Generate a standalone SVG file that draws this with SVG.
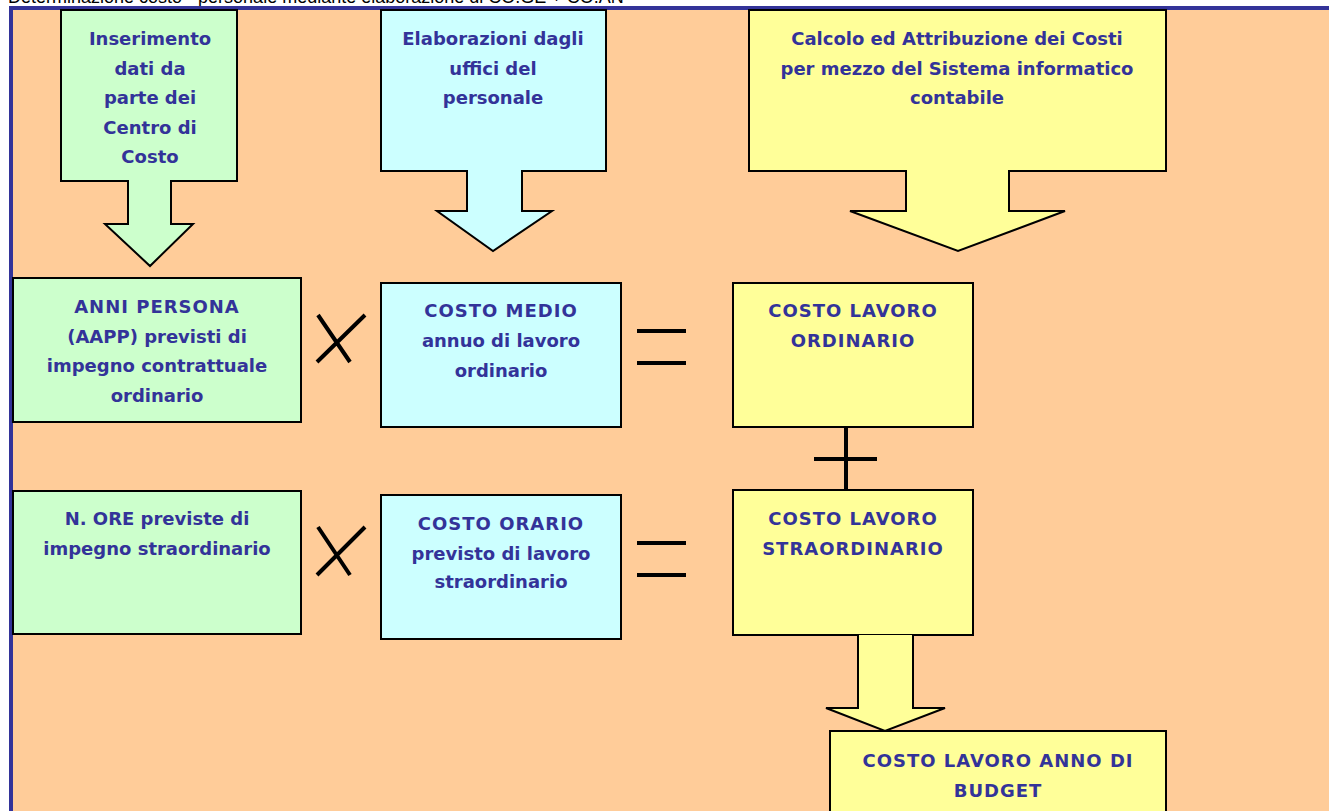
<svg xmlns="http://www.w3.org/2000/svg" width="1329" height="811" viewBox="0 0 1329 811">
<style>
.t{font-family:"DejaVu Sans","Liberation Sans",sans-serif;font-weight:bold;font-size:18px;fill:#333399;text-anchor:middle}
.k{letter-spacing:1px}
.g{fill:#CCFFCC;stroke:#000;stroke-width:2}
.c{fill:#CCFFFF;stroke:#000;stroke-width:2}
.y{fill:#FFFF99;stroke:#000;stroke-width:2}
.op{stroke:#000;stroke-width:4;fill:none}
</style>
<rect x="0" y="0" width="1329" height="811" fill="#fff"/>
<text x="8" y="3" font-family="Liberation Sans, sans-serif" font-size="18" fill="#000">Determinazione costo - personale mediante elaborazione di CO.GE + CO.AN</text>
<rect x="11" y="8" width="1330" height="820" fill="#FFCC99" stroke="#333399" stroke-width="4"/>
<g id="n-inserimento">
<path class="g" d="M61,10 H237 V181 H171 V224 H193 L150,266 L105,224 H128 V181 H61 Z"/>
<text class="t" x="150" y="45">Inserimento</text>
<text class="t" x="150" y="75">dati da</text>
<text class="t" x="150" y="104">parte dei</text>
<text class="t" x="150" y="134">Centro di</text>
<text class="t" x="150" y="163">Costo</text>
</g>
<g id="n-elaborazioni">
<path class="c" d="M381,10 H606 V171 H522 V211 H552 L493,251 L437,211 H467 V171 H381 Z"/>
<text class="t" x="493" y="45">Elaborazioni dagli</text>
<text class="t" x="493" y="75">uffici del</text>
<text class="t" x="493" y="104">personale</text>
</g>
<g id="n-calcolo">
<path class="y" d="M749,10 H1166 V171 H1009 V211 H1065 L958,251 L850,211 H906 V171 H749 Z"/>
<text class="t" x="957" y="45">Calcolo ed Attribuzione dei Costi</text>
<text class="t" x="957" y="75">per mezzo del Sistema informatico</text>
<text class="t" x="957" y="104">contabile</text>
</g>
<g id="n-anni">
<rect class="g" x="13" y="278" width="288" height="144"/>
<text class="t k" x="157" y="313">ANNI PERSONA</text>
<text class="t" x="157" y="343">(AAPP) previsti di</text>
<text class="t" x="157" y="372">impegno contrattuale</text>
<text class="t" x="157" y="402">ordinario</text>
</g>
<g id="n-medio">
<rect class="c" x="381" y="283" width="240" height="144"/>
<text class="t k" x="501" y="317">COSTO MEDIO</text>
<text class="t" x="501" y="347">annuo di lavoro</text>
<text class="t" x="501" y="377">ordinario</text>
</g>
<g id="n-ordinario">
<rect class="y" x="733" y="283" width="240" height="144"/>
<text class="t k" x="853" y="317">COSTO LAVORO</text>
<text class="t k" x="853" y="347">ORDINARIO</text>
</g>
<g id="n-ore">
<rect class="g" x="13" y="491" width="288" height="143"/>
<text class="t" x="157" y="525">N. ORE previste di</text>
<text class="t" x="157" y="555">impegno straordinario</text>
</g>
<g id="n-orario">
<rect class="c" x="381" y="495" width="240" height="144"/>
<text class="t k" x="501" y="530">COSTO ORARIO</text>
<text class="t" x="501" y="560">previsto di lavoro</text>
<text class="t" x="501" y="588">straordinario</text>
</g>
<g id="n-straordinario">
<rect class="y" x="733" y="490" width="240" height="145"/>
<text class="t k" x="853" y="525">COSTO LAVORO</text>
<text class="t k" x="853" y="555">STRAORDINARIO</text>
</g>
<g id="n-budget">
<rect class="y" x="830" y="731" width="336" height="100"/>
<text class="t k" x="998" y="767">COSTO LAVORO ANNO DI</text>
<text class="t k" x="998" y="797">BUDGET</text>
</g>
<g id="connectors">
<path class="y" d="M858,635 V708 H826 L885,731 L945,708 H913 V635"/>
<path class="op" d="M318,315 L350,362 M317,362 L365,315"/>
<path class="op" d="M318,527 L350,575 M317,575 L365,527"/>
<path class="op" d="M637,331 H686 M637,363 H686"/>
<path class="op" d="M637,543 H686 M637,575 H686"/>
<path class="op" d="M846,427 V490 M814,459 H877"/>
</g>
</svg>
